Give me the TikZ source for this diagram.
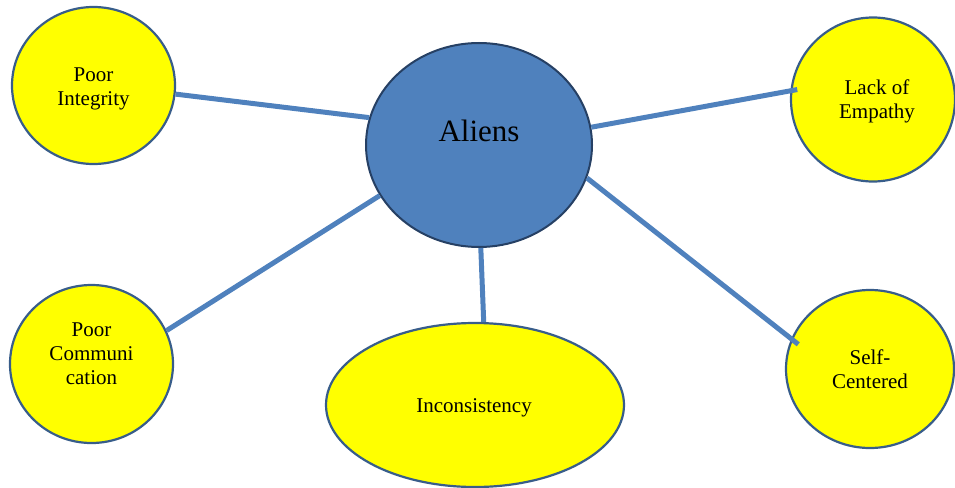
\documentclass[tikz,border=0pt]{standalone}
\usepackage{fontspec}
\setmainfont{Liberation Serif}
\usepackage{tikz}
\usetikzlibrary{shapes.geometric}
\usepackage{xcolor}
\definecolor{linkblue}{RGB}{79,129,189}
\definecolor{rimblue}{RGB}{56,93,138}
\definecolor{hubrim}{RGB}{38,64,100}
\definecolor{traitfill}{RGB}{255,255,0}

\begin{document}
\begin{tikzpicture}[x=1pt, y=-1pt,
  trait/.style={ellipse, draw=rimblue, line width=2.2pt, fill=traitfill, inner sep=0pt},
  hub/.style={ellipse, draw=hubrim, line width=2pt, fill=linkblue, inner sep=0pt},
  txt/.style={font=\fontsize{21}{24}\selectfont, align=center},
  link/.style={linkblue, line width=5pt}]
\useasboundingbox (0,0) rectangle (955,487);
\node[hub, minimum width=226pt, minimum height=204pt, label={[font=\fontsize{31}{36}\selectfont, yshift=14.6pt]center:Aliens}] (aliens) at (479,145) {};
\node[trait, minimum width=163pt, minimum height=157pt, label={[txt, yshift=-3.6pt]center:Poor\\Integrity}] (integrity) at (93.5,85.5) {};
\node[trait, minimum width=164pt, minimum height=164pt, label={[txt, xshift=4pt, yshift=-2pt]center:Lack of\\Empathy}] (empathy) at (873,99.5) {};
\node[trait, minimum width=163pt, minimum height=158pt, label={[txt, yshift=10pt]center:Poor\\Communi\\cation}] (communication) at (91.5,364) {};
\node[trait, minimum width=298pt, minimum height=164pt, label={[txt, xshift=-1pt, yshift=-2.4pt]center:Inconsistency}] (inconsistency) at (475,405) {};
\node[trait, minimum width=168pt, minimum height=158pt, label={[txt]center:Self-\\Centered}] (selfcentered) at (870,369) {};
\draw[link] (aliens.166) -- (integrity.354);
\draw[link, shorten >=-7pt] (aliens.9) -- (empathy.174);
\draw[link] (aliens.207) -- (communication.24);
\draw[link] (aliens.271) -- (inconsistency.84);
\draw[link, shorten >=-9pt] (aliens.343) -- (selfcentered.159);
\end{tikzpicture}
\end{document}
